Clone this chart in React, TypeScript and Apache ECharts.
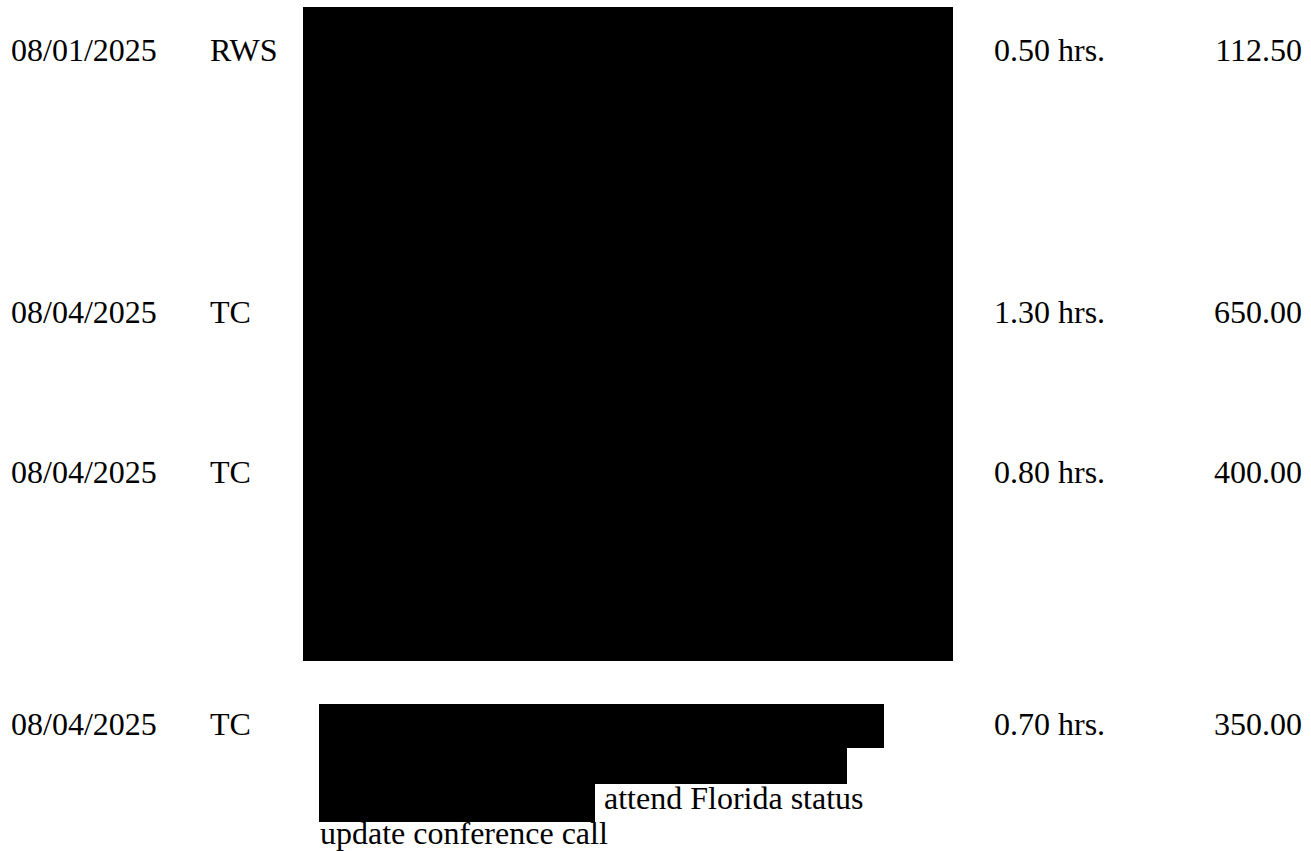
import React, { useEffect, useRef } from "react";
import * as echarts from "echarts";

const dates = ["08/01/2025", "08/04/2025", "08/04/2025", "08/04/2025"];
const initials = ["RWS", "TC", "TC", "TC"];
const hours = [0.5, 1.3, 0.8, 0.7];
const amounts = [112.5, 650.0, 400.0, 350.0];
const descLines = ["attend Florida status", "update conference call"];

// layout
const W = 1311;
const H = 851;
const FS = 32;
const FONT = '"Liberation Serif", "Times New Roman", serif';
const rowBaselines = [61, 323, 483, 735];
const xDate = 11;
const xInit = 210;
const xHours = 994;
const xAmountRight = 1302;
const descBaselines = [809, 844];
const descX = [604, 320];
const redactions = [
  { x: 303, y: 7, w: 650, h: 654 },
  { x: 319, y: 704, w: 565, h: 44 },
  { x: 319, y: 748, w: 528, h: 36 },
  { x: 319, y: 784, w: 276, h: 38 },
];

const mid = (b: number) => b - FS * 0.3375;

function txt(text: string, x: number, baseline: number, align: string = "left") {
  return {
    type: "text",
    x,
    y: mid(baseline),
    style: {
      text,
      fontSize: FS,
      fontFamily: FONT,
      fill: "#000",
      textAlign: align,
      textVerticalAlign: "middle",
    },
  };
}

export default function App() {
  const ref = useRef<HTMLDivElement>(null);
  useEffect(() => {
    if (!ref.current) return;
    const chart = echarts.init(ref.current, undefined, { renderer: "svg" });
    const elements: any[] = [];
    elements.push({
      type: "rect",
      shape: { x: 0, y: 0, width: W, height: H },
      style: { fill: "#fff" },
      z: 0,
    });
    redactions.forEach((r) =>
      elements.push({
        type: "rect",
        shape: { x: r.x, y: r.y, width: r.w, height: r.h },
        style: { fill: "#000" },
        z: 2,
      })
    );
    dates.forEach((d, i) => {
      const b = rowBaselines[i];
      elements.push(txt(d, xDate, b));
      elements.push(txt(initials[i], xInit, b));
      elements.push(txt(hours[i].toFixed(2) + " hrs.", xHours, b));
      elements.push(txt(amounts[i].toFixed(2), xAmountRight, b, "right"));
    });
    descLines.forEach((l, i) => elements.push(txt(l, descX[i], descBaselines[i])));
    chart.setOption({
      animation: false,
      backgroundColor: "#fff",
      graphic: { elements },
    });
    return () => chart.dispose();
  }, []);
  return (
    <div
      ref={ref}
      style={{ position: "fixed", left: 0, top: 0, width: W, height: H, background: "#fff" }}
    />
  );
}
